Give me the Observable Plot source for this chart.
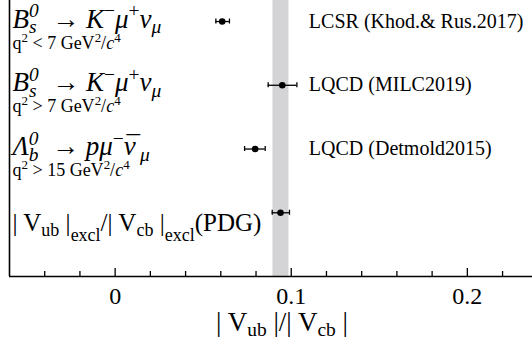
<!DOCTYPE html>
<html><head><meta charset="utf-8">
<script src="https://cdn.jsdelivr.net/npm/d3@7"></script>
<script src="https://cdn.jsdelivr.net/npm/@observablehq/plot@0.6"></script>
<style>html,body{margin:0;background:#fff;overflow:hidden;font-family:"Liberation Serif",serif}
#chart svg{display:block}
#chart svg text, #chart svg tspan{font-family:"Liberation Serif","Times New Roman",serif !important}</style>
</head><body><div id="chart"></div>
<script>
// ---- data ----
const rows = [0, 1, 2, 3];
const values = [0.0608, 0.0949, 0.0795, 0.0939];
const errLo = [0.0572, 0.0869, 0.0735, 0.0892];
const errHi = [0.0649, 0.1032, 0.0852, 0.0990];
const refLabels = ["LCSR (Khod.& Rus.2017)", "LQCD (MILC2019)", "LQCD (Detmold2015)"];
const decayKeys = ["@decay0", "@decay1", "@decay2"];
const cutKeys = ["@cut0", "@cut1", "@cut2"];
const pdgKey = ["@pdg"];
const titleKey = ["@title"];
const band = [0.0896, 0.0987];
const majorTicks = [0, 0.1, 0.2];
const minorTicks = [-0.04, -0.02, 0.02, 0.04, 0.06, 0.08, 0.12, 0.14, 0.16, 0.18, 0.22];
const xDomain = [-0.06, 0.237];
const yDomain = [-0.33, 4.0];

// rich-text definitions (real text with sub/superscripts)
const I = (t, o = {}) => ({t, i: true, ...o});
const N = (t, o = {}) => ({t, ...o});
const decayB = [I("B"), I("s", {sub: 1}), I("0", {sup: 1, stack: 1}), N("  \u2192 "), I("K"), N("\u2212", {sup: 1}), I("\u03bc"), N("+", {sup: 1}), I("\u03bd"), I("\u03bc", {sub: 1})];
const decayL = [I("\u039b"), I("b", {sub: 1}), I("0", {sup: 1, stack: 1}), N("  \u2192 "), I("p"), I("\u03bc"), N("\u2212", {sup: 1}), I("\u03bd"), N("\u00af", {stack: 1, over: 1}), I("\u03bc", {sub: 1})];
const cut = (op, v) => [N("q"), N("2", {sup: 1}), N(` ${op} ${v} GeV`), N("2", {sup: 1}), N("/"), I("c"), N("4", {sup: 1})];
const richMap = {
  "@decay0": {size: 27, segs: decayB},
  "@decay1": {size: 27, segs: decayB},
  "@decay2": {size: 27, segs: decayL},
  "@cut0": {size: 18, segs: cut("<", 7)},
  "@cut1": {size: 18, segs: cut(">", 7)},
  "@cut2": {size: 18, segs: cut(">", 15)},
  "@pdg": {size: 25, segs: [N("| V"), N("ub", {sub: 1}), N(" |"), N("excl", {sub: 1, low: 1}), N("/| V"), N("cb", {sub: 1}), N(" |"), N("excl", {sub: 1, low: 1}), N("(PDG)")]},
  "@title": {size: 27, segs: [N("| V"), N("ub", {sub: 1}), N(" |/| V"), N("cb", {sub: 1}), N(" |")]}
};

const data = rows.map(i => ({row: i, v: values[i], lo: errLo[i], hi: errHi[i]}));

const plot = Plot.plot({
  width: 532, height: 346,
  marginLeft: 9, marginRight: 0, marginTop: 0, marginBottom: 70,
  style: {background: "white", overflow: "visible", color: "black", fontFamily: "Liberation Serif"},
  x: {domain: xDomain, axis: null},
  y: {domain: yDomain, reverse: true, axis: null},
  marks: [
    Plot.rect([band], {x1: d => d[0], x2: d => d[1], fill: "#d4d4d6"}),
    Plot.ruleY(data, {y: "row", x1: "lo", x2: "hi", stroke: "black", strokeWidth: 1.3}),
    Plot.ruleX(data, {x: "lo", y1: "row", y2: "row", insetTop: -2.5, insetBottom: -2.5, stroke: "black", strokeWidth: 1.3}),
    Plot.ruleX(data, {x: "hi", y1: "row", y2: "row", insetTop: -2.5, insetBottom: -2.5, stroke: "black", strokeWidth: 1.3}),
    Plot.dot(data, {x: "v", y: "row", r: 3.3, fill: "black", stroke: null}),
    Plot.ruleX([xDomain[0]], {stroke: "black", strokeWidth: 1.6}),
    Plot.ruleY([yDomain[1]], {stroke: "black", strokeWidth: 1.6}),
    Plot.ruleX(majorTicks, {x: d => d, insetTop: 268, stroke: "black", strokeWidth: 1.3}),
    Plot.ruleX(minorTicks, {x: d => d, insetTop: 271, stroke: "black", strokeWidth: 1.3}),
    Plot.text(majorTicks, {x: d => d, frameAnchor: "bottom", dy: 27, lineAnchor: "bottom", text: d => d === 0 ? "0" : String(d), fontSize: 24}),
    Plot.text(refLabels, {x: 0.110, y: (d, i) => rows[i], dy: 6, textAnchor: "start", lineAnchor: "bottom", fontSize: 20}),
    Plot.text(decayKeys, {frameAnchor: "left", y: (d, i) => rows[i], dx: 3, dy: 6, textAnchor: "start", lineAnchor: "bottom", fontSize: 27}),
    Plot.text(cutKeys, {frameAnchor: "left", y: (d, i) => rows[i], dx: 3, dy: 27, textAnchor: "start", lineAnchor: "bottom", fontSize: 18}),
    Plot.text(pdgKey, {frameAnchor: "left", y: rows[3], dx: 3, dy: 18, textAnchor: "start", lineAnchor: "bottom", fontSize: 25}),
    Plot.text(titleKey, {frameAnchor: "bottom", dx: 11, dy: 54, textAnchor: "middle", lineAnchor: "bottom", fontSize: 27})
  ]
});
document.getElementById("chart").append(plot);

const svgNS = "http://www.w3.org/2000/svg";
const FAM = "'Liberation Serif', 'Times New Roman', serif";
function styleNode(node, size, italic) {
  node.setAttribute("font-family", FAM);
  node.setAttribute("font-size", size.toFixed(2));
  node.style.fontFamily = FAM;
  node.style.fontSize = size.toFixed(2) + "px";
  node.style.fontStyle = italic ? "italic" : "normal";
}
function applyRich(el, spec) {
  const base = spec.size;
  el.textContent = "";
  el.style.whiteSpace = "pre";
  let shift = 0, prev = null, pending = 0;
  for (const s of spec.segs) {
    const tsp = document.createElementNS(svgNS, "tspan");
    let target = 0, scale = 1;
    if (s.sub) { target = base * (s.low ? 0.42 : 0.22); scale = 0.72; }
    if (s.sup) { target = -base * 0.38; scale = 0.72; }
    styleNode(tsp, base * scale, s.i);
    const dy = target - shift;
    if (dy) tsp.setAttribute("dy", dy.toFixed(2));
    shift = target;
    tsp.textContent = s.t;
    el.appendChild(tsp);
    if (pending > 0) { tsp.setAttribute("dx", pending.toFixed(2)); pending = 0; }
    if (s.stack && prev) {
      const pw = prev.getComputedTextLength();
      const off = s.over ? base * 0.1 : 0;
      tsp.setAttribute("dx", (-pw + off).toFixed(2));
      const w = tsp.getComputedTextLength();
      pending = pw - off - w;
    }
    prev = tsp;
  }
}
plot.querySelectorAll("text").forEach(el => {
  const size = parseFloat(getComputedStyle(el).fontSize) || 20;
  styleNode(el, size, false);
  const spec = richMap[el.textContent];
  if (spec) applyRich(el, spec);
  else {
    const t = el.textContent;
    el.textContent = "";
    const tsp = document.createElementNS(svgNS, "tspan");
    styleNode(tsp, size, false);
    tsp.textContent = t;
    el.appendChild(tsp);
    tsp.getComputedTextLength();
  }
});
plot.querySelectorAll("text").forEach(el => { el.getComputedTextLength(); el.getBBox(); });
</script>
</body></html>
